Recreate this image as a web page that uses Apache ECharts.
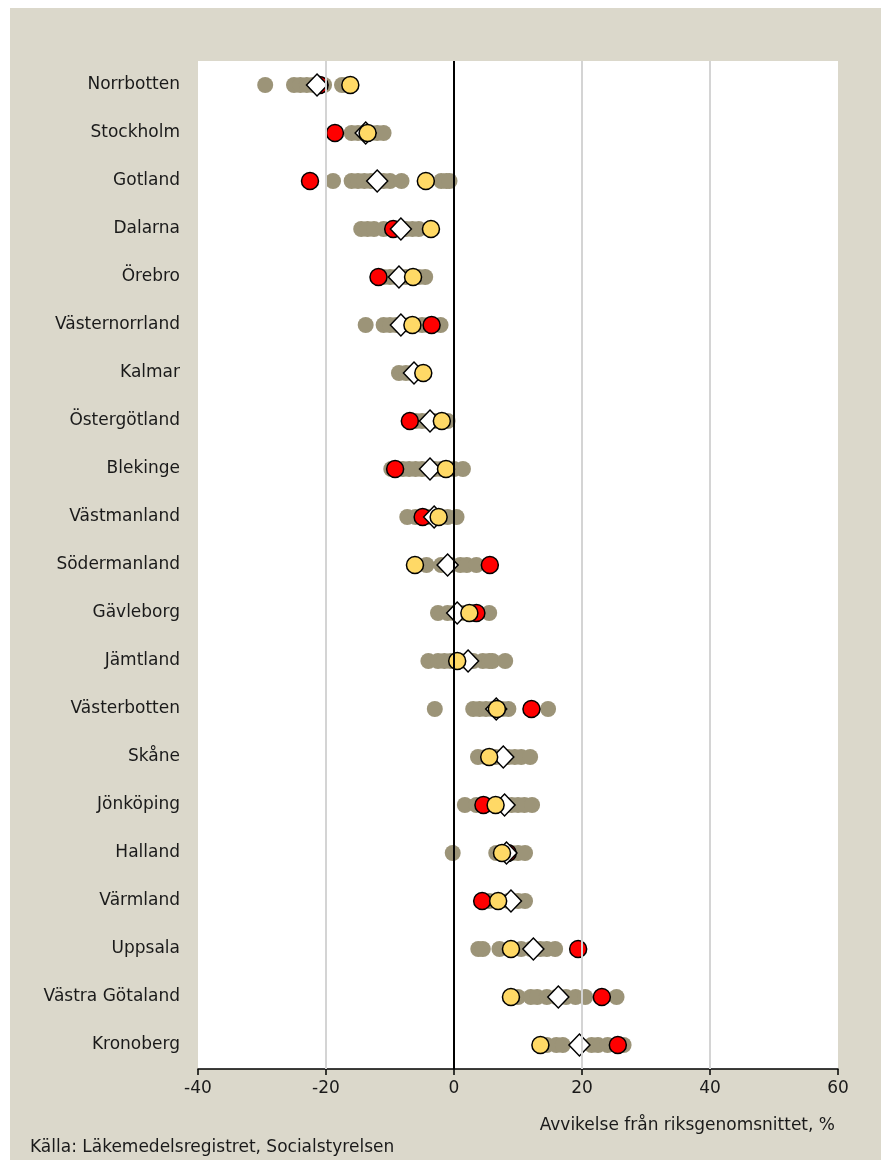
<!DOCTYPE html>
<html>
<head>
<meta charset="utf-8">
<script src="https://cdn.jsdelivr.net/npm/echarts@6/dist/echarts.min.js"></script>
<style>
  html, body { margin: 0; padding: 0; background: #fff; }
  #chart { position: absolute; left: 10px; top: 8px; width: 871px; height: 1152px; }
</style>
</head>
<body>
<div id="chart"></div>
<script>
// län, uppifrån och ned
var regions = ['Norrbotten', 'Stockholm', 'Gotland', 'Dalarna', 'Örebro', 'Västernorrland',
  'Kalmar', 'Östergötland', 'Blekinge', 'Västmanland', 'Södermanland', 'Gävleborg',
  'Jämtland', 'Västerbotten', 'Skåne', 'Jönköping', 'Halland', 'Värmland', 'Uppsala',
  'Västra Götaland', 'Kronoberg'];

// grå punkter per län
var grayValues = [
  [-29.5, -25, -24, -23, -22, -21, -20.3, -17.5, -16.8],
  [-16, -15, -14, -13, -12, -11],
  [-18.9, -16, -15, -14, -13, -12, -11, -10, -8.2, -2, -1.2, -0.7],
  [-14.5, -13.5, -12.5, -11, -9, -7.5, -6.5, -5.5],
  [-11, -10, -9, -7.5, -5.5, -4.5],
  [-13.8, -11, -10, -9, -7, -5, -4, -2.1],
  [-8.6, -7.5, -6.5, -5.5],
  [-6, -5, -4, -3, -1],
  [-9.8, -8, -7, -6, -5, -3, -2, 0, 1.4],
  [-7.3, -6, -5, -4, -3, -2, -1, 0.4],
  [-4.3, -2, -0.5, 1, 2, 3.5],
  [-2.5, -1, 0, 1.5, 3, 5.5],
  [-4, -2.5, -1.5, -0.5, 1, 3, 4.5, 5.5, 6, 8],
  [-3, 3, 4, 5, 6, 7.5, 8.5, 14.7],
  [3.75, 5, 6.5, 8.5, 9.5, 10.5, 11.9],
  [1.7, 3.5, 5, 6.5, 8, 9, 10, 11, 12.2],
  [-0.2, 6.6, 8, 9, 10, 11.1],
  [5.5, 7, 8.5, 10, 11.1],
  [3.8, 4.5, 7.1, 9, 10.5, 12, 13.5, 14.5, 15.8],
  [10, 12, 13, 14.5, 16, 17.5, 19, 20.5, 25.4],
  [14.5, 16, 17, 21.5, 22.5, 24, 26.5]
];

var redValues = [-21.0, -18.6, -22.5, -9.5, -11.8, -3.5, null, -6.9, -9.2, -4.9, 5.6, 3.5,
  null, 12.1, null, 4.6, 8.4, 4.4, 19.4, 23.1, 25.6];

var yellowValues = [-16.2, -13.5, -4.4, -3.6, -6.4, -6.5, -4.8, -1.9, -1.25, -2.4, -6.1, 2.4,
  0.5, 6.7, 5.5, 6.5, 7.5, 6.9, 8.9, 8.9, 13.5];

var diamondValues = [-21.4, -13.8, -12.0, -8.3, -8.6, -8.3, -6.25, -3.75, -3.75, -3.1, -1.0, 0.5,
  2.2, 6.6, 7.7, 7.9, 8.2, 8.9, 12.4, 16.3, 19.6];

var xTicks = [-40, -20, 0, 20, 40, 60];
var gridLineValues = [-20, 20, 40];

function pairs(values) {
  var out = [];
  values.forEach(function (v, i) {
    if (v !== null) out.push([v, regions[i]]);
  });
  return out;
}

var grayData = [];
grayValues.forEach(function (row, i) {
  row.forEach(function (v) { grayData.push([v, regions[i]]); });
});

var font = 'DejaVu Sans';
var myChart = echarts.init(document.getElementById('chart'));

var option = {
  backgroundColor: '#dbd8cb',
  animation: false,
  textStyle: { fontFamily: font },
  title: [{
    text: 'Avvikelse från riksgenomsnittet, %',
    right: 41,
    top: 1104,
    textStyle: { fontSize: 17, fontWeight: 'normal', color: '#1a1a1a', fontFamily: font }
  }, {
    text: 'Källa: Läkemedelsregistret, Socialstyrelsen',
    left: 15,
    top: 1126,
    textStyle: { fontSize: 17, fontWeight: 'normal', color: '#1a1a1a', fontFamily: font }
  }],
  grid: {
    left: 188, right: 43, top: 53, bottom: 91,
    show: true, backgroundColor: '#ffffff', borderWidth: 0
  },
  xAxis: {
    type: 'value',
    min: -40, max: 60, interval: 20,
    axisLine: { show: true, onZero: false, lineStyle: { color: '#000', width: 1.5 } },
    axisTick: { show: true, inside: false, length: 6, lineStyle: { color: '#000', width: 1.5 } },
    axisLabel: {
      fontSize: 17, color: '#1a1a1a', margin: 11,
      formatter: function (v) { return xTicks.indexOf(v) >= 0 ? String(v) : ''; }
    },
    splitLine: { show: false }
  },
  yAxis: {
    type: 'category',
    data: regions,
    inverse: true,
    axisLine: { show: false },
    axisTick: { show: false },
    axisLabel: { fontSize: 17, color: '#1a1a1a', margin: 18 },
    splitLine: { show: false }
  },
  series: [
    {
      name: 'Rutnät',
      type: 'scatter',
      data: [],
      silent: true,
      markLine: {
        silent: true,
        symbol: 'none',
        label: { show: false },
        lineStyle: { type: 'solid', color: '#d4d4d4', width: 2 },
        data: gridLineValues.map(function (v) { return { xAxis: v }; })
          .concat([{ xAxis: 0, lineStyle: { color: '#000', width: 2 } }])
      }
    },
    {
      name: 'Grå',
      type: 'scatter',
      symbol: 'circle',
      symbolSize: 16,
      itemStyle: { color: '#9c9478', opacity: 1 },
      data: grayData
    },
    {
      name: 'Röd',
      type: 'scatter',
      symbol: 'circle',
      symbolSize: 17,
      itemStyle: { color: '#ff0000', borderColor: '#000', borderWidth: 1.5, opacity: 1 },
      data: pairs(redValues)
    },
    {
      name: 'Romb',
      type: 'scatter',
      symbol: 'diamond',
      symbolSize: [21, 22],
      itemStyle: { color: '#ffffff', borderColor: '#000', borderWidth: 1.5, opacity: 1 },
      data: pairs(diamondValues)
    },
    {
      name: 'Gul',
      type: 'scatter',
      symbol: 'circle',
      symbolSize: 17,
      itemStyle: { color: '#ffd966', borderColor: '#000', borderWidth: 1.5, opacity: 1 },
      data: pairs(yellowValues)
    }
  ]
};

myChart.setOption(option);
</script>
</body>
</html>
